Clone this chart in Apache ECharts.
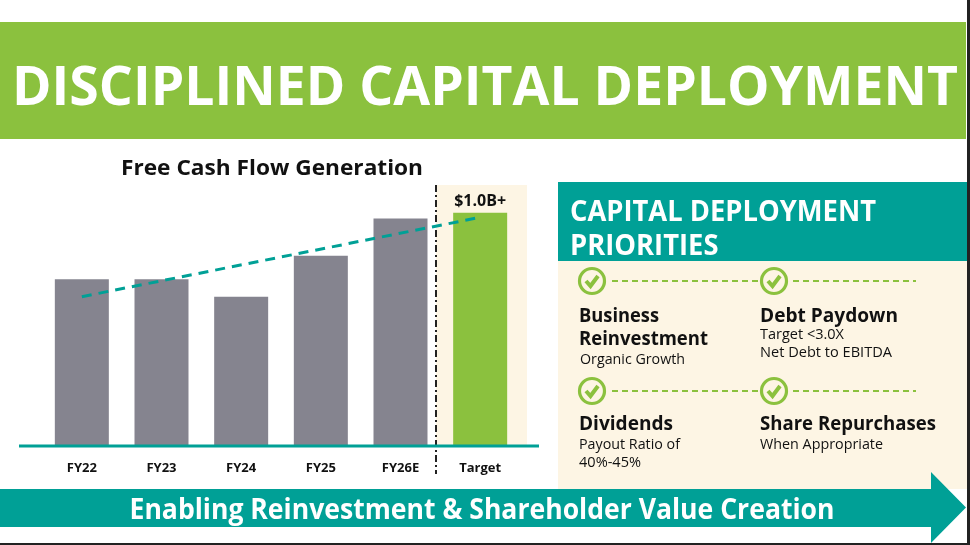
<!DOCTYPE html>
<html lang="en">
<head>
<meta charset="utf-8">
<title>Disciplined Capital Deployment</title>
<script src="https://cdn.jsdelivr.net/npm/echarts@6/dist/echarts.min.js"></script>
<style>
html, body { margin: 0; padding: 0; background: #fff; }
#main { width: 970px; height: 545px; }
</style>
</head>
<body>
<div id="main"></div>
<script>
// chart data
var categories = ['FY22', 'FY23', 'FY24', 'FY25', 'FY26E', 'Target'];
var fcfValues = [715, 715, 640, 815, 975, 1000];
var trendValues = [640, null, null, null, null, 980];
var targetLabel = '$1.0B+';

var GREEN = '#8BC13E', TEAL = '#00A096', GREY = '#85848F', BEIGE = '#FDF5E4';
var FONT = '"Open Sans", "Noto Sans", sans-serif';

var measureCtx = document.createElement('canvas').getContext('2d');
function fitScale(str, size, weight, width) {
  measureCtx.font = weight + ' ' + size + 'px ' + FONT;
  return width / measureCtx.measureText(str).width;
}
// text left/center at x, caps centred near y; squeezed to width if given
function txt(str, x, y, size, weight, width, color, align, sx) {
  var s = sx || (width ? fitScale(str, size, weight, width) : 1);
  return {
    type: 'text', x: x, y: y + size * 0.13, z: 20, scaleX: s,
    style: {
      text: str, fill: color || '#111',
      font: weight + ' ' + size + 'px ' + FONT,
      align: align || 'left', textAlign: align || 'left',
      verticalAlign: 'middle', textVerticalAlign: 'middle'
    }
  };
}
function check(cx, cy) {
  return [
    { type: 'circle', shape: { cx: cx, cy: cy, r: 12.5 }, z: 15,
      style: { fill: 'none', stroke: GREEN, lineWidth: 3.2 } },
    { type: 'polyline', shape: { points: [[cx - 6, cy], [cx - 1.5, cy + 5], [cx + 6, cy - 5]] }, z: 15,
      style: { fill: 'none', stroke: GREEN, lineWidth: 4 } }
  ];
}
function dash(x1, x2, y) {
  return { type: 'line', shape: { x1: x1, y1: y, x2: x2, y2: y }, z: 14,
    style: { stroke: GREEN, lineWidth: 2, lineDash: [6, 4] } };
}

var hdrScale = fitScale('CAPITAL DEPLOYMENT', 28, 'bold', 306);

var g = [
  // banner
  { type: 'rect', shape: { x: 0, y: 22, width: 966, height: 117 }, style: { fill: GREEN }, z: 1 },
  txt('DISCIPLINED CAPITAL DEPLOYMENT', 12, 83, 54, 'bold', 946, '#fff'),
  // chart title
  txt('Free Cash Flow Generation', 272, 166, 22, 'bold', 302, '#111', 'center'),
  // target highlight panel + separator
  { type: 'rect', shape: { x: 436, y: 185, width: 91, height: 261 }, style: { fill: BEIGE }, z: 0 },
  { type: 'line', shape: { x1: 436, y1: 185, x2: 436, y2: 474 }, z: 8,
    style: { stroke: '#222', lineWidth: 2, lineDash: [7, 3, 2, 3] } },
  // baseline
  { type: 'line', shape: { x1: 19, y1: 446, x2: 539, y2: 446 }, z: 9,
    style: { stroke: TEAL, lineWidth: 3 } },
  // right panel
  { type: 'rect', shape: { x: 558, y: 261, width: 410, height: 228 }, style: { fill: BEIGE }, z: 1 },
  { type: 'rect', shape: { x: 558, y: 182, width: 410, height: 79 }, style: { fill: TEAL }, z: 2 },
  txt('CAPITAL DEPLOYMENT', 570, 209, 28, 'bold', null, '#fff', 'left', hdrScale),
  txt('PRIORITIES', 570, 243, 28, 'bold', null, '#fff', 'left', hdrScale),
  dash(612, 759, 281), dash(793, 916, 281), dash(612, 759, 391), dash(793, 916, 391),
  txt('Business', 579, 314, 20, 'bold', 80),
  txt('Reinvestment', 579, 337, 20, 'bold', 129),
  txt('Organic Growth', 580, 358, 14, 'normal', 105),
  txt('Debt Paydown', 760, 314, 20, 'bold', 138),
  txt('Target <3.0X', 760, 333, 14, 'normal', 84),
  txt('Net Debt to EBITDA', 760, 351, 14, 'normal', 132),
  txt('Dividends', 579, 422, 20, 'bold', 94),
  txt('Payout Ratio of', 579, 443, 14, 'normal', 101),
  txt('40%-45%', 579, 461, 14, 'normal', 62),
  txt('Share Repurchases', 760, 422, 20, 'bold', 176),
  txt('When Appropriate', 760, 443, 14, 'normal', 123),
  // arrow
  { type: 'polygon', z: 3, style: { fill: TEAL },
    shape: { points: [[0, 489], [931, 489], [931, 472], [966, 507.5], [931, 543], [931, 527], [0, 527]] } },
  txt('Enabling Reinvestment & Shareholder Value Creation', 482, 507, 28, 'bold', 705, '#fff', 'center'),
  // frame edges
  { type: 'rect', shape: { x: 967, y: 0, width: 3, height: 545 }, style: { fill: '#222' }, z: 30 },
  { type: 'rect', shape: { x: 0, y: 543, width: 970, height: 2 }, style: { fill: '#222' }, z: 30 }
];
g = g.concat(check(592, 281), check(774, 281), check(592, 391), check(774, 391));

var chart = echarts.init(document.getElementById('main'), null, { renderer: 'canvas' });
chart.setOption({
  animation: false,
  grid: { left: 42, width: 478, top: 166, height: 280 },
  xAxis: {
    type: 'category', data: categories,
    axisLine: { show: false }, axisTick: { show: false },
    axisLabel: { margin: 16, color: '#111', fontWeight: 'bold', fontSize: 13, fontFamily: FONT }
  },
  yAxis: { type: 'value', min: 0, max: 1200, show: false, splitLine: { show: false } },
  graphic: g,
  series: [
    {
      type: 'bar', data: fcfValues.map(function (v, i) {
        var last = i === fcfValues.length - 1;
        return {
          value: v,
          itemStyle: { color: last ? GREEN : GREY },
          label: last ? { show: true, position: 'top', distance: 3, formatter: targetLabel,
            color: '#111', fontWeight: 'bold', fontSize: 16, fontFamily: FONT } : { show: false }
        };
      }),
      barWidth: 54, z: 4
    },
    {
      type: 'line', data: trendValues, connectNulls: true, symbol: 'none', z: 12,
      lineStyle: { color: TEAL, width: 3, type: [10, 7] }
    }
  ]
});
</script>
</body>
</html>
